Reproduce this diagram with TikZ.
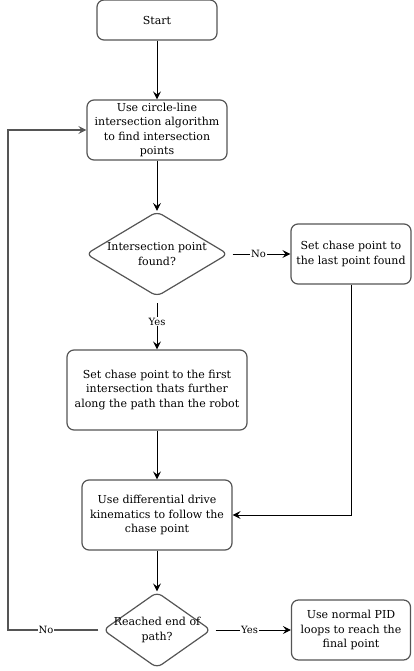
\documentclass[tikz,border=0pt]{standalone}
\usepackage{fontspec}
\setmainfont{DejaVu Serif}
\usetikzlibrary{shapes.geometric,arrows.meta}
\definecolor{edgegray}{HTML}{555555}
\tikzset{
  x=1pt,y=-1pt,
  box/.style={draw=edgegray,line width=1.2pt,rounded corners=7pt,align=center,inner sep=0pt,font=\fontsize{11}{14.5}\selectfont},
  dia/.style={draw=edgegray,line width=1.2pt,diamond,rounded corners=6pt,align=center,inner sep=0pt,font=\fontsize{11}{14.5}\selectfont},
  conn/.style={draw=black,line width=1pt,-{Stealth[length=8pt,width=8pt,inset=3pt]}},
  lab/.style={fill=white,inner sep=1pt,font=\fontsize{10}{12}\selectfont}
}
\begin{document}
\begin{tikzpicture}
\useasboundingbox (0,0) rectangle (413,671);
\node[box,minimum width=120pt,minimum height=40pt] (start) at (157,20) {Start};
\node[box,minimum width=140pt,minimum height=60pt] (circ) at (157,130) {Use circle-line\\intersection algorithm\\to find intersection\\points};
\node[dia,minimum width=142pt,minimum height=85pt] (d1) at (157,254) {};
\node[font=\fontsize{11}{14.5}\selectfont,align=center] (d1t) at (157,254) {Intersection point\\found?};
\node[box,minimum width=120pt,minimum height=60pt] (last) at (351,254) {Set chase point to\\the last point found};
\node[box,minimum width=180pt,minimum height=80pt] (first) at (157,390) {Set chase point to the first\\intersection thats further\\along the path than the robot};
\node[box,minimum width=150pt,minimum height=70pt] (diff) at (157,515) {Use differential drive\\kinematics to follow the\\chase point};
\node[dia,minimum width=108pt,minimum height=76pt] (d2) at (157,630) {};
\node[font=\fontsize{11}{14.5}\selectfont,align=center] (d2t) at (157,630) {Reached end of\\path?};
\node[box,minimum width=119pt,minimum height=60pt] (pid) at (351,630) {Use normal PID\\loops to reach the\\final point};
\coordinate (c1) at (351,515);
\coordinate (c2) at (8,630);
\coordinate (c3) at (8,130);
\draw[conn] (start) -- (circ);
\draw[conn] (circ) -- (d1);
\draw[conn] (d1.east) ++(4,0) coordinate (d1e) -- (last.west) node[lab,pos=0.45] {No};
\draw[conn] (d1.south) ++(0,6) coordinate (d1s) -- (first.north) node[lab,pos=0.4] {Yes};
\draw[conn] (first) -- (diff);
\draw[conn] (last.south) -- (c1) -- (diff.east);
\draw[conn] (diff) -- (d2);
\draw[conn] (d2.east) ++(4,0) coordinate (d2e) -- (pid.west) node[lab,pos=0.45] {Yes};
\draw[draw=edgegray,line width=1.2pt,-{Stealth[length=8pt,width=8pt,inset=3pt]}] (d2.west) ++(-4,0) coordinate (d2w) -- (c2) node[lab,pos=0.58,text=black] {No} -- (c3) -- (circ.west);
\end{tikzpicture}
\end{document}
